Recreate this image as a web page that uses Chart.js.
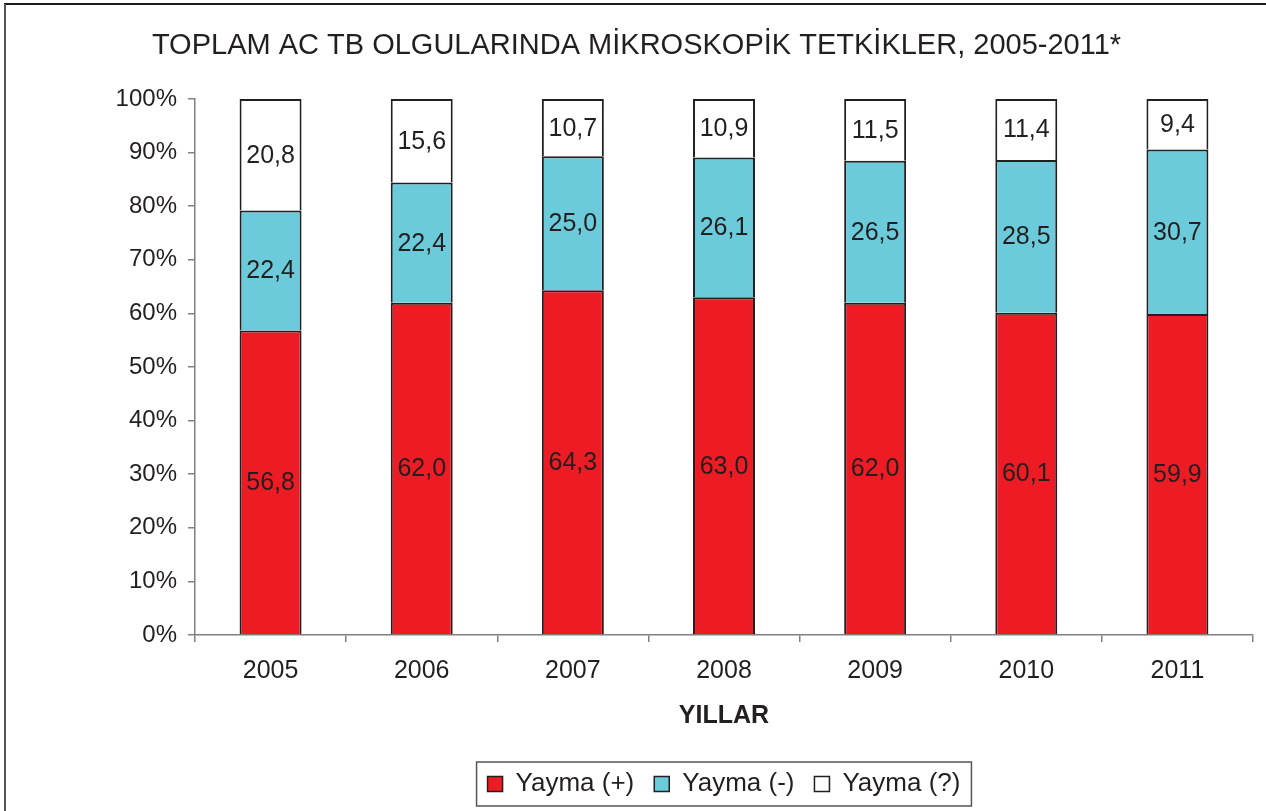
<!DOCTYPE html>
<html><head><meta charset="utf-8">
<script src="https://cdn.jsdelivr.net/npm/chart.js@4/dist/chart.umd.min.js"></script>
<style>html,body{margin:0;padding:0;background:#fff;overflow:hidden}#wrap{position:relative;width:1266px;height:811px}</style>
</head><body><div id="wrap"><canvas id="c" width="1266" height="811"></canvas></div>
<script>
const categories = ['2005','2006','2007','2008','2009','2010','2011'];
const yaymaPos = [56.8, 62.0, 64.3, 63.0, 62.0, 60.1, 59.9];
const yaymaNeg = [22.4, 22.4, 25.0, 26.1, 26.5, 28.5, 30.7];
const yaymaUnk = [20.8, 15.6, 10.7, 10.9, 11.5, 11.4, 9.4];
const seriesNames = ['Yayma (+)', 'Yayma (-)', 'Yayma (?)'];
const yTicks = [0,10,20,30,40,50,60,70,80,90,100];
const titleText = 'TOPLAM AC TB OLGULARINDA MİKROSKOPİK TETKİKLER, 2005-2011*';
const xTitle = 'YILLAR';

const INK = '#231F20';
const FONT = "'Liberation Sans', Arial, sans-serif";
Chart.defaults.font.family = FONT;
Chart.defaults.color = INK;

const framePlugin = {
  id: 'frame',
  beforeDraw(chart) {
    const ctx = chart.ctx;
    ctx.save();
    ctx.fillStyle = '#fff';
    ctx.fillRect(0, 0, chart.width, chart.height);
    ctx.lineWidth = 2;
    ctx.strokeStyle = '#1a1a1a';
    ctx.beginPath(); ctx.moveTo(4, 4); ctx.lineTo(chart.width, 4); ctx.stroke();
    ctx.strokeStyle = '#555';
    ctx.beginPath(); ctx.moveTo(5, 4); ctx.lineTo(5, chart.height); ctx.stroke();
    ctx.restore();
  }
};

const labelPlugin = {
  id: 'valueLabels',
  afterDatasetsDraw(chart) {
    const ctx = chart.ctx;
    ctx.save();
    ctx.font = '25px ' + FONT;
    ctx.fillStyle = INK;
    ctx.textAlign = 'center';
    ctx.textBaseline = 'middle';
    chart.data.datasets.forEach((ds, di) => {
      const meta = chart.getDatasetMeta(di);
      meta.data.forEach((bar, i) => {
        const p = bar.getProps(['x', 'y', 'base'], true);
        const v = ds.data[i];
        ctx.fillText(v.toFixed(1).replace('.', ','), p.x, (p.y + p.base) / 2 + 1);
      });
    });
    ctx.restore();
  }
};

const legendBorderPlugin = {
  id: 'legendBorder',
  afterDraw(chart) {
    const lg = chart.legend;
    if (!lg || !lg.legendHitBoxes || !lg.legendHitBoxes.length) return;
    const hb = lg.legendHitBoxes;
    let l = Infinity, r = -Infinity, t = Infinity, b = -Infinity;
    hb.forEach(h => { l = Math.min(l, h.left); r = Math.max(r, h.left + h.width); t = Math.min(t, h.top); b = Math.max(b, h.top + h.height); });
    const ctx = chart.ctx;
    ctx.save();
    ctx.strokeStyle = '#555';
    ctx.lineWidth = 1.5;
    ctx.strokeRect(l - 11, t - 9, (r - l) + 22, (b - t) + 18);
    ctx.restore();
  }
};

const common = { borderColor: INK, borderSkipped: false, inflateAmount: 0, categoryPercentage: 1.0, barPercentage: 0.41,
  borderWidth: { top: 2, bottom: 0, left: 2, right: 2 } };

new Chart(document.getElementById('c'), {
  type: 'bar',
  data: {
    labels: categories,
    datasets: [
      Object.assign({ label: seriesNames[0], data: yaymaPos, backgroundColor: '#ED1C24' }, common),
      Object.assign({ label: seriesNames[1], data: yaymaNeg, backgroundColor: '#6BCBDB' }, common),
      Object.assign({ label: seriesNames[2], data: yaymaUnk, backgroundColor: '#FFFFFF' }, common)
    ]
  },
  options: {
    responsive: false,
    animation: false,
    devicePixelRatio: 1,
    layout: { padding: { left: 20, right: 13, top: 0, bottom: 4 } },
    plugins: {
      title: { display: true, text: titleText, color: INK, font: { size: 29, weight: 'normal' }, padding: { top: 29, bottom: 35.2 } },
      legend: {
        position: 'bottom', fullSize: false,
        labels: { boxWidth: 15, boxHeight: 15, padding: 20, color: INK, font: { size: 26 },
          generateLabels: chart => chart.data.datasets.map((ds, i) => ({
            text: ds.label, fillStyle: ds.backgroundColor, strokeStyle: INK, lineWidth: 1.5, datasetIndex: i, hidden: false, fontColor: INK
          })) }
      },
      tooltip: { enabled: false }
    },
    scales: {
      x: {
        stacked: true,
        grid: { drawOnChartArea: false, tickLength: 7, offset: true, color: '#808080', lineWidth: 1.5 },
        border: { color: '#808080', width: 1.5 },
        ticks: { font: { size: 25 }, color: INK, padding: 14 },
        title: { display: true, text: xTitle, color: INK, font: { size: 25, weight: 'bold' }, padding: { top: 1, bottom: 20 } }
      },
      y: {
        stacked: true, min: 0, max: 100,
        afterBuildTicks: s => { s.ticks = yTicks.map(v => ({ value: v })); },
        afterFit: s => { s.width = 175; },
        grid: { drawOnChartArea: false, tickLength: 7, color: '#808080', lineWidth: 1.5 },
        border: { color: '#808080', width: 1.5 },
        ticks: { font: { size: 24 }, color: INK, padding: 11, callback: v => v + '%' }
      }
    }
  },
  plugins: [framePlugin, labelPlugin, legendBorderPlugin]
});
</script>
</body></html>
